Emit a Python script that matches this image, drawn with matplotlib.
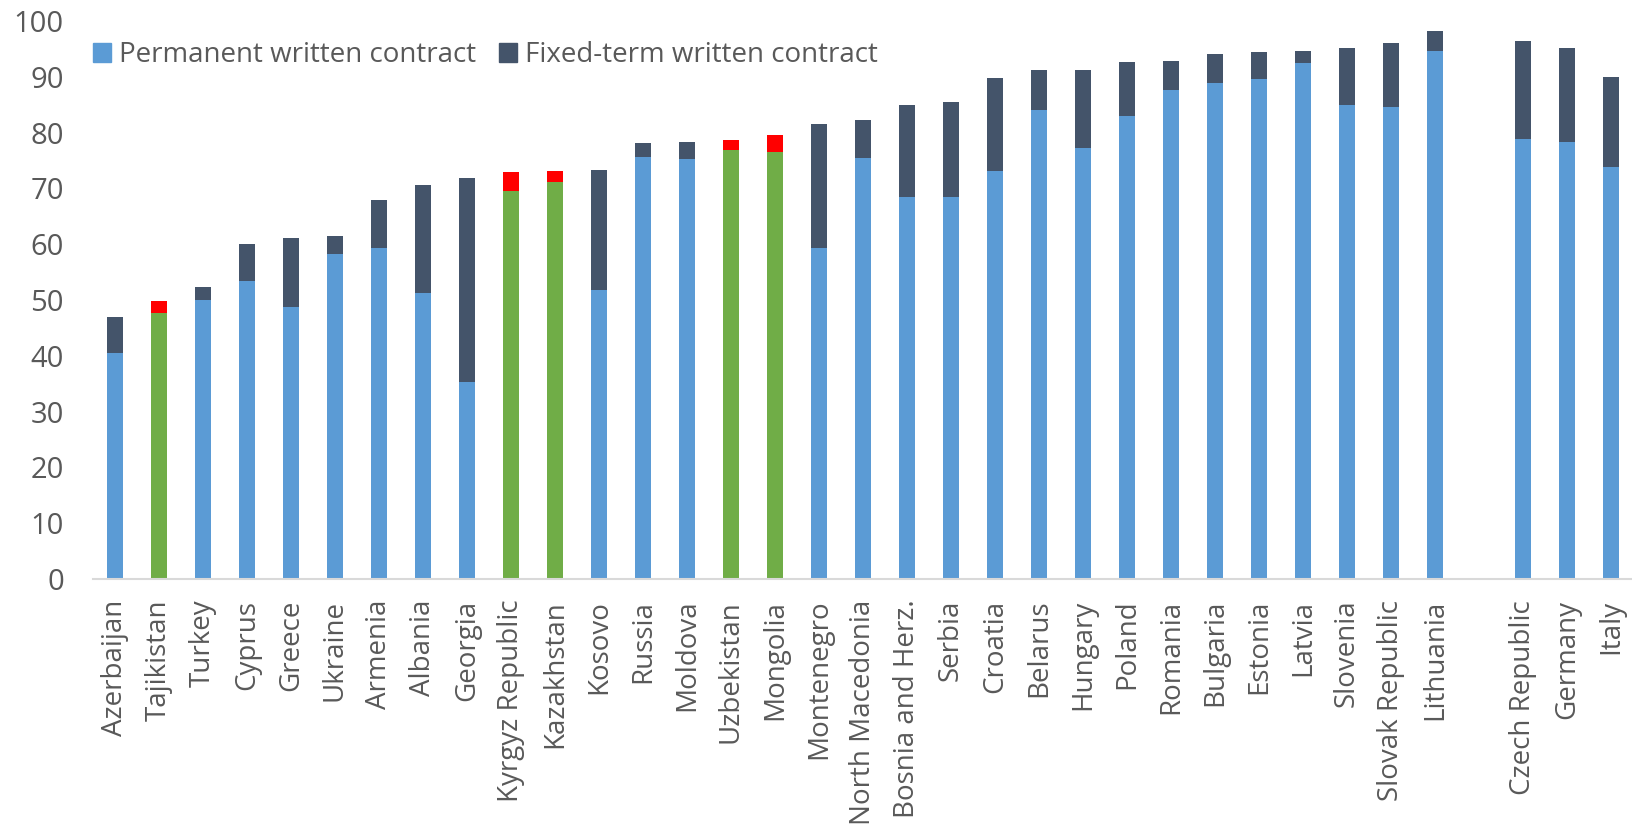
import numpy as np
import matplotlib.pyplot as plt

# pays de la région, puis trois pays de comparaison séparés par un espace
countries = ['Azerbaijan', 'Tajikistan', 'Turkey', 'Cyprus', 'Greece', 'Ukraine',
             'Armenia', 'Albania', 'Georgia', 'Kyrgyz Republic', 'Kazakhstan',
             'Kosovo', 'Russia', 'Moldova', 'Uzbekistan', 'Mongolia', 'Montenegro',
             'North Macedonia', 'Bosnia and Herz.', 'Serbia', 'Croatia', 'Belarus',
             'Hungary', 'Poland', 'Romania', 'Bulgaria', 'Estonia', 'Latvia',
             'Slovenia', 'Slovak Republic', 'Lithuania']
permanent = [40.5, 47.6, 50.0, 53.4, 48.7, 58.2, 59.4, 51.3, 35.3, 69.6, 71.2,
             51.8, 75.7, 75.3, 76.9, 76.5, 59.3, 75.5, 68.5, 68.5, 73.2, 84.1,
             77.2, 83.0, 87.7, 88.9, 89.6, 92.4, 84.9, 84.6, 94.7]
fixed_term = [6.5, 2.2, 2.3, 6.7, 12.5, 3.3, 8.5, 19.3, 36.6, 3.3, 1.9,
              21.5, 2.5, 3.0, 1.7, 3.1, 22.2, 6.8, 16.5, 16.9, 16.5, 7.1,
              14.1, 9.7, 5.2, 5.1, 4.8, 2.3, 10.3, 11.5, 3.5]

comparadores = ['Czech Republic', 'Germany', 'Italy']
permanent_comp = [78.8, 78.4, 73.8]
fixed_term_comp = [17.7, 16.8, 16.2]

# países da Ásia Central destacados em verde/vermelho
destaque = ['Tajikistan', 'Kyrgyz Republic', 'Kazakhstan', 'Uzbekistan', 'Mongolia']

azul = '#5B9BD5'
escuro = '#44546A'
verde = '#70AD47'
vermelho = '#FF0000'
cinza = '#595959'

plt.rcParams['font.family'] = ['Open Sans', 'DejaVu Sans']

nomes = countries + comparadores
perm = np.array(permanent + permanent_comp)
fix = np.array(fixed_term + fixed_term_comp)
x = np.concatenate([np.arange(len(countries)),
                    len(countries) + 1 + np.arange(len(comparadores))])

cor_base = [verde if n in destaque else azul for n in nomes]
cor_topo = [vermelho if n in destaque else escuro for n in nomes]

fig = plt.figure(figsize=(16.33, 8.32), dpi=100)
ax = fig.add_axes([93 / 1633, 1 - 579 / 832, 1 - 93 / 1633, (579 - 21) / 832])

ax.bar(x, perm, width=0.38, color=cor_base, label='Permanent written contract')
ax.bar(x, fix, bottom=perm, width=0.38, color=cor_topo, label='Fixed-term written contract')

ax.set_xlim(-0.5, x[-1] + 0.5)
ax.set_ylim(0, 100)
ax.set_yticks(np.arange(0, 101, 10))
ax.set_xticks(x)
ax.set_xticklabels(nomes, rotation=90, va='top', ha='center')

for s in ['top', 'right', 'left']:
    ax.spines[s].set_visible(False)
ax.spines['bottom'].set_color('#D9D9D9')
ax.spines['bottom'].set_linewidth(1.5)
ax.tick_params(axis='y', length=0, pad=21, labelsize=21, labelcolor=cinza)
ax.tick_params(axis='x', length=0, pad=15, labelsize=20, labelcolor=cinza)

# legenda só com as duas séries principais
from matplotlib.patches import Patch
handles = [Patch(color=azul), Patch(color=escuro)]
fig.legend(handles, ['Permanent written contract', 'Fixed-term written contract'],
           loc='center left', bbox_to_anchor=(93 / 1633, 1 - 55 / 832), ncol=2,
           frameon=False, fontsize=20, labelcolor=cinza, borderpad=0, borderaxespad=0,
           handlelength=0.65, handleheight=0.65, handletextpad=0.3, columnspacing=0.8)

fig.savefig('out.png', dpi=100)
